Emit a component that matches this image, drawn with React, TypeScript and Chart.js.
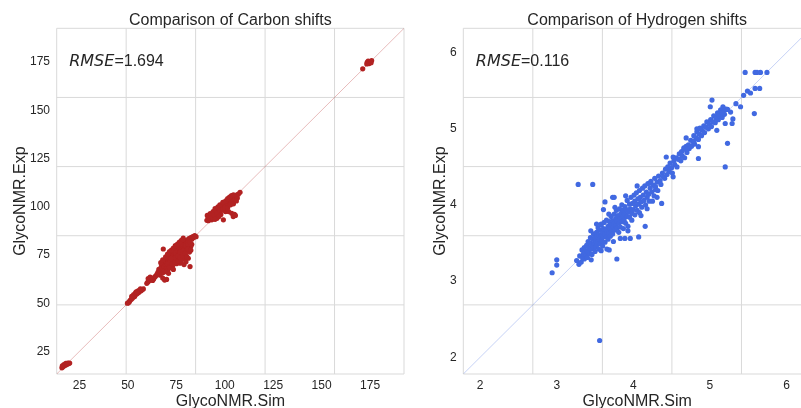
import React, { useEffect, useRef } from 'react';
import { Chart, registerables } from 'chart.js';

Chart.register(...registerables);

// ---------- data ----------
const carbonTitle = 'Comparison of Carbon shifts';
const hydrogenTitle = 'Comparison of Hydrogen shifts';
const xAxisLabel = 'GlycoNMR.Sim';
const yAxisLabel = 'GlycoNMR.Exp';
const carbonRmse = '1.694';
const hydrogenRmse = '0.116';

const carbonTicks = [25, 50, 75, 100, 125, 150, 175];
const hydrogenTicks = [2, 3, 4, 5, 6];
const carbonRange = [13.3, 192.5];
const hydrogenRange = [1.78, 6.32];

// [simulated, experimental]
const carbonPoints: [number, number][] = [
  [16, 16.5], [16.5, 17], [17, 17.5], [17.5, 17.8], [18, 18], [18.5, 18.3], [19, 18.5], [19.5, 18.8], [20, 19],
  [17, 18.2], [18, 18.8], [19, 19], [16.2, 17.5],
  [49.8, 50], [50.3, 50.2], [50.8, 50.8], [51.2, 51.5], [51.8, 52], [52.3, 52.6], [53, 53.2], [53.5, 53.5],
  [54, 54.5], [54.5, 54.8], [55, 55.2], [55.6, 55.6], [56.2, 56.2], [56.8, 56.5], [57.3, 57], [58, 57.4],
  [54, 55.5], [53, 54.5], [55.5, 56.5], [52, 53.5], [54.5, 56], [56.5, 57.5],
  [59.8, 60.3], [60.3, 61], [60.8, 61.5], [61.3, 62.2], [61.8, 62.6], [62.3, 63], [62.8, 61.8], [63.3, 62.5],
  [63.8, 63.4], [64.3, 64], [65, 65], [60.5, 62.8], [61.5, 63.5], [68, 63], [70, 62.3], [69, 62],
  [65.5, 66], [66, 67.5], [66.5, 66.8], [67, 68], [67.3, 69], [67.8, 68.3], [68.2, 69.5], [68.5, 70.2],
  [68.8, 68.8], [69.2, 71], [69.5, 70], [69.8, 72], [70, 71.3], [70.3, 69.5], [70.6, 72.8], [71, 71.8],
  [71.2, 73.5], [71.5, 70.5], [71.8, 73], [72, 74.5], [72.3, 72.2], [72.5, 75], [72.8, 73.8], [73, 71.8],
  [73.3, 75.8], [73.5, 74.5], [73.8, 73], [74, 76.5], [74.2, 75.2], [74.5, 77], [74.8, 74], [75, 76],
  [75.2, 78], [75.5, 75.5], [75.8, 77.5], [76, 79], [76.2, 76.3], [76.5, 78.3], [76.8, 77], [77, 80],
  [77.2, 78.8], [77.5, 75.8], [77.8, 79.5], [78, 81], [78.3, 78], [78.5, 80.3], [78.8, 79], [79, 81.8],
  [79.3, 80.5], [79.6, 78.5], [80, 82.5], [80.3, 81], [80.7, 79.5], [81, 82.8], [81.5, 83.5], [82, 82],
  [82.5, 84], [83, 83.2], [83.5, 84.5], [84, 84], [84.5, 85], [85.2, 84.5], [78.6, 83.7], [68.3, 78.1],
  [81.2, 73.3], [82.1, 69], [76.9, 70.7], [74.3, 76.7], [79, 73], [80, 71.5], [77.5, 72], [75, 70.5],
  [73, 69], [71, 67.8], [69.8, 66.5], [72.5, 69.5], [74, 72.2], [76, 73.8], [78, 76], [80.5, 77.5],
  [82.5, 79.5], [81.8, 76.5], [83, 80.5], [79.8, 75], [66.5, 64.6], [67.5, 65.5], [68.5, 66], [69, 67],
  [70, 68], [75, 74.8], [76.5, 75], [77.5, 77.3], [79, 77.5], [80, 79.8], [81, 80.5], [82, 81.5],
  [70.5, 70.5], [71.8, 71], [73.5, 72.5], [74.5, 73.5], [75.8, 74.5], [77, 76.5], [78.5, 77], [72.2, 73.2],
  [67, 71], [68, 72.5], [69.5, 74], [70.5, 75.5], [71.5, 76.8], [72.5, 77.5], [73.5, 78.5], [74.5, 79.8],
  [75.5, 80.5], [76.5, 81.5], [77.5, 82.5], [78.3, 83], [70, 66.5], [71.5, 68.5], [73, 70.5], [74.5, 71],
  [76, 72], [77, 73.5], [78.5, 74.5], [79.5, 76], [81, 78], [82.5, 77.5], [80.5, 74], [79, 70],
  [73.5, 67.5], [71, 65.5],
  [90.8, 93], [91.5, 94.5], [92, 93.2], [92.8, 95], [93.3, 93.2], [93.8, 96], [94.5, 94.8], [95, 97.3],
  [95.5, 95.5], [96, 98], [96.5, 96.2], [97, 99], [97.5, 97.5], [98, 100], [98.5, 98.3], [99, 100.8],
  [99.3, 93.2], [99.5, 99.2], [100, 101.5], [100.4, 97.5], [100.5, 100], [101, 102.3], [101.5, 100.8],
  [102, 103], [102.5, 101.5], [103, 104], [103.5, 102.5], [103.6, 96.6], [104, 104.8], [104.4, 94.9],
  [104.5, 103], [105, 105.5], [105.5, 104], [106, 106], [106.5, 104.5], [107, 106.5], [107.9, 107.5],
  [105, 96], [105.5, 95.5], [98, 96], [96, 94], [101, 99], [102, 97.5],
  [91, 95.5], [92.5, 96.5], [94, 97.5], [95, 99], [96.5, 100], [97.5, 101], [99, 102.3], [100.5, 103],
  [101.5, 104.2], [102.5, 105], [103.5, 105.8], [104.5, 106.2], [93, 94], [94.5, 95.8], [96, 96.8],
  [97.5, 98.5], [99, 98.5], [100, 99.5], [101.5, 99.5], [103, 101], [104.5, 101.5], [106, 103],
  [91.5, 92.8], [97, 95], [95, 93.5],
  [171.2, 171.5], [173.5, 174.8], [174, 175.5], [174.5, 174.2], [175, 175.3], [175.5, 174.7], [175.8, 175.8], [173.3, 174],
];

const hydrogenPoints: [number, number][] = [
  [2.94, 3.11], [3.0, 3.21], [3.0, 3.28], [3.28, 4.27], [3.47, 4.27], [3.56, 2.22], [3.785, 3.29],
  [3.63, 4.04], [3.75, 4.1], [3.73, 4.1], [3.61, 3.94], [3.445, 3.66], [3.58, 3.75], [4.155, 3.72],
  [4.07, 3.58], [3.96, 3.56], [3.89, 3.56], [3.83, 3.56], [3.655, 3.42], [3.685, 3.41], [4.31, 4.1],
  [4.37, 4.02], [4.29, 4.2], [4.22, 4.29],
  [3.26, 3.27], [3.29, 3.22], [3.3, 3.33], [3.32, 3.25], [3.33, 3.41], [3.34, 3.3], [3.35, 3.36], [3.36, 3.44],
  [3.36, 3.29], [3.37, 3.38], [3.38, 3.33], [3.39, 3.47], [3.4, 3.4], [3.4, 3.31], [3.41, 3.52], [3.42, 3.38],
  [3.42, 3.44], [3.43, 3.36], [3.44, 3.5], [3.44, 3.57], [3.45, 3.42], [3.46, 3.47], [3.46, 3.35], [3.47, 3.55],
  [3.48, 3.44], [3.48, 3.62], [3.49, 3.5], [3.5, 3.39], [3.5, 3.57], [3.51, 3.53], [3.51, 3.45], [3.52, 3.64],
  [3.53, 3.48], [3.53, 3.58], [3.54, 3.52], [3.54, 3.7], [3.55, 3.42], [3.55, 3.61], [3.56, 3.55], [3.57, 3.67],
  [3.57, 3.49], [3.58, 3.59], [3.58, 3.74], [3.59, 3.53], [3.6, 3.64], [3.6, 3.46], [3.61, 3.69], [3.61, 3.58],
  [3.62, 3.77], [3.63, 3.62], [3.63, 3.51], [3.64, 3.68], [3.65, 3.58], [3.65, 3.8], [3.66, 3.64], [3.67, 3.72],
  [3.67, 3.55], [3.68, 3.63], [3.69, 3.78], [3.69, 3.69], [3.7, 3.59], [3.71, 3.74], [3.71, 3.85], [3.72, 3.66],
  [3.73, 3.79], [3.73, 3.62], [3.74, 3.71], [3.75, 3.88], [3.75, 3.76], [3.76, 3.67], [3.77, 3.82], [3.77, 3.73],
  [3.78, 3.93], [3.79, 3.7], [3.79, 3.79], [3.8, 3.86], [3.81, 3.64], [3.81, 3.76], [3.82, 3.95], [3.83, 3.82],
  [3.83, 3.71], [3.84, 3.89], [3.85, 3.78], [3.85, 4.0], [3.86, 3.85], [3.87, 3.69], [3.87, 3.93], [3.88, 3.8],
  [3.89, 3.98], [3.89, 3.88], [3.9, 3.76], [3.91, 3.94], [3.92, 3.85], [3.92, 4.06], [3.93, 3.72], [3.94, 3.91],
  [3.95, 4.01], [3.95, 3.84], [3.96, 3.95], [3.97, 4.1], [3.98, 3.89], [3.98, 3.8], [3.99, 4.02], [4.0, 3.94],
  [4.01, 4.13], [4.02, 3.87], [4.02, 4.05], [4.03, 3.99], [4.04, 4.16], [4.05, 3.93], [4.06, 4.08], [4.07, 4.01],
  [4.08, 4.19], [4.08, 3.9], [4.09, 4.1], [4.1, 4.04], [4.11, 3.97], [4.12, 4.22], [4.13, 4.13], [4.14, 4.06],
  [4.15, 4.25], [4.16, 4.0], [4.17, 4.17], [4.18, 4.1], [4.19, 4.28], [4.2, 4.14], [4.21, 4.05], [4.22, 4.22],
  [4.23, 4.31], [4.24, 4.17], [4.26, 4.26], [4.27, 4.12], [4.28, 4.35], [4.29, 4.24], [4.31, 4.3], [4.32, 4.19],
  [4.33, 4.38], [4.35, 4.32], [4.36, 4.27], [4.38, 4.42], [4.39, 4.37], [4.41, 4.35], [4.42, 4.47], [4.44, 4.4],
  [4.45, 4.5], [4.47, 4.44], [4.48, 4.55], [4.5, 4.49], [4.51, 4.42], [4.53, 4.58], [4.54, 4.53], [4.56, 4.62],
  [4.57, 4.5], [4.59, 4.6], [4.6, 4.67], [4.62, 4.58], [4.63, 4.7], [4.64, 4.64], [4.66, 4.73], [4.67, 4.62],
  [4.69, 4.77], [4.7, 4.69], [4.72, 4.79], [4.73, 4.74], [4.75, 4.85], [4.76, 4.77], [4.78, 4.83], [4.79, 4.91],
  [4.8, 4.8], [4.82, 4.88], [4.83, 4.96], [4.85, 4.86], [4.86, 4.93], [4.87, 5.01], [4.89, 4.91], [4.9, 4.98],
  [4.92, 5.04], [4.93, 4.95], [4.95, 5.02], [4.96, 5.09], [4.98, 5.0], [4.99, 5.06], [5.01, 5.12], [5.02, 5.03],
  [5.04, 5.09], [5.05, 5.17], [5.07, 5.08], [5.08, 5.14], [5.1, 5.21], [5.11, 5.12], [5.13, 5.17], [5.14, 5.25],
  [5.16, 5.15], [5.17, 5.22], [5.19, 5.19], [5.21, 5.26],
  [3.52, 3.75], [3.68, 3.88], [3.76, 3.97], [3.9, 4.12], [4.05, 4.25], [3.74, 3.52], [3.93, 3.66], [4.1, 3.86],
  [4.18, 3.95], [4.25, 4.05], [3.45, 3.28], [3.58, 3.4],
  [5.027, 5.377], [5.005, 5.29], [5.17, 5.29], [5.2, 5.255], [5.23, 5.255], [5.27, 5.22], [5.11, 5.19],
  [5.16, 5.21], [5.2, 5.07], [5.29, 5.07], [5.3, 5.13], [5.23, 4.81], [5.2, 4.5], [4.85, 4.61], [4.85, 4.765],
  [4.69, 4.88], [4.79, 4.84], [4.66, 4.75], [4.7, 4.73], [4.43, 4.63], [4.52, 4.63], [4.52, 4.37], [4.6, 4.6],
  [4.83, 5.0], [4.87, 5.0], [5.09, 4.98], [5.34, 5.33], [5.4, 5.29], [5.44, 5.44], [5.49, 5.495], [5.53, 5.47],
  [5.59, 5.53], [5.65, 5.53], [5.58, 5.2], [5.46, 5.74], [5.59, 5.74], [5.615, 5.74], [5.66, 5.74], [5.745, 5.74],
];

// ---------- styling ----------
const GRID_COLOR = '#d9d9d9';
const TEXT_COLOR = '#262626';
const SANS = '"Liberation Sans", Arial, sans-serif';

type PanelProps = {
  left: number;
  width: number;
  height: number;
  title: string;
  rmse: string;
  points: [number, number][];
  range: number[];
  ticks: number[];
  color: string;
  lineColor: string;
  yScaleWidth: number;
  padRight: number;
  yLabelGap: number;
};

function Panel(p: PanelProps) {
  const ref = useRef<HTMLCanvasElement | null>(null);

  useEffect(() => {
    if (!ref.current) return;
    const decor = {
      id: 'panelDecor',
      beforeDatasetsDraw(chart: any) {
        const { ctx, chartArea: a } = chart;
        ctx.save();
        ctx.strokeStyle = GRID_COLOR;
        ctx.lineWidth = 1;
        const w = a.right - a.left;
        const h = a.bottom - a.top;
        for (let k = 0; k <= 5; k++) {
          const x = a.left + (w * k) / 5;
          ctx.beginPath();
          ctx.moveTo(x, a.top);
          ctx.lineTo(x, a.bottom);
          ctx.stroke();
          const y = a.top + (h * k) / 5;
          ctx.beginPath();
          ctx.moveTo(a.left, y);
          ctx.lineTo(a.right, y);
          ctx.stroke();
        }
        ctx.restore();
      },
      afterDraw(chart: any) {
        const { ctx, chartArea: a } = chart;
        const cx = (a.left + a.right) / 2;
        const cy = (a.top + a.bottom) / 2;
        ctx.save();
        ctx.fillStyle = TEXT_COLOR;
        ctx.textBaseline = 'alphabetic';
        ctx.textAlign = 'center';
        ctx.font = `16px ${SANS}`;
        ctx.fillText(p.title, cx, a.top - 3.3);
        ctx.fillText(xAxisLabel, cx, a.bottom + 32.3);
        ctx.save();
        ctx.translate(a.left - p.yLabelGap, cy);
        ctx.rotate(-Math.PI / 2);
        ctx.fillText(yAxisLabel, 0, 0);
        ctx.restore();
        // RMSE annotation
        ctx.textAlign = 'left';
        const tx = a.left + 12.5;
        const ty = a.top + 37.3;
        ctx.font = `italic 16px "DejaVu Sans", ${SANS}`;
        ctx.fillText('RMSE', tx, ty);
        const wItalic = ctx.measureText('RMSE').width;
        ctx.font = `16px ${SANS}`;
        ctx.fillText('=' + p.rmse, tx + wItalic, ty);
        ctx.restore();
      },
    };

    const tickFont = { family: SANS, size: 12 };
    const setTicks = (scale: any) => {
      scale.ticks = p.ticks.map((v) => ({ value: v }));
    };

    const chart = new Chart(ref.current, {
      type: 'scatter',
      data: {
        datasets: [
          {
            data: p.points.map(([x, y]) => ({ x, y })),
            backgroundColor: p.color,
            borderColor: p.color,
            borderWidth: 0,
            pointRadius: 2.6,
            order: 1,
          },
          {
            data: [
              { x: p.range[0], y: p.range[0] },
              { x: p.range[1], y: p.range[1] },
            ],
            showLine: true,
            borderColor: p.lineColor,
            borderWidth: 1,
            pointRadius: 0,
            order: 2,
          },
        ],
      },
      options: {
        animation: false,
        responsive: false,
        events: [],
        layout: { padding: { left: 0, right: p.padRight, top: 28.3, bottom: 0 } },
        plugins: {
          legend: { display: false },
          tooltip: { enabled: false },
          title: { display: false },
        },
        scales: {
          x: {
            type: 'linear',
            min: p.range[0],
            max: p.range[1],
            grid: { display: false, drawTicks: false },
            border: { display: false },
            ticks: { font: tickFont, color: TEXT_COLOR, padding: 4, maxRotation: 0, autoSkip: false },
            afterBuildTicks: setTicks,
            afterFit: (s: any) => {
              s.height = 34;
            },
          },
          y: {
            type: 'linear',
            min: p.range[0],
            max: p.range[1],
            grid: { display: false, drawTicks: false },
            border: { display: false },
            ticks: { font: tickFont, color: TEXT_COLOR, padding: 6.7, autoSkip: false },
            afterBuildTicks: setTicks,
            afterFit: (s: any) => {
              s.width = p.yScaleWidth;
            },
          },
        },
      },
      plugins: [decor],
    } as any);

    return () => chart.destroy();
  }, []);

  return (
    <canvas
      ref={ref}
      width={p.width}
      height={p.height}
      style={{ position: 'absolute', left: p.left, top: 0, width: p.width, height: p.height }}
    />
  );
}

export default function App() {
  return (
    <div
      style={{
        position: 'fixed',
        left: 0,
        top: 0,
        width: 801,
        height: 408,
        overflow: 'hidden',
        background: '#ffffff',
      }}
    >
      <Panel
        left={0}
        width={420}
        height={408}
        title={carbonTitle}
        rmse={carbonRmse}
        points={carbonPoints}
        range={carbonRange}
        ticks={carbonTicks}
        color="#b22222"
        lineColor="rgba(178,34,34,0.3)"
        yScaleWidth={56.7}
        padRight={16}
        yLabelGap={32.2}
      />
      <Panel
        left={420}
        width={400}
        height={408}
        title={hydrogenTitle}
        rmse={hydrogenRmse}
        points={hydrogenPoints}
        range={hydrogenRange}
        ticks={hydrogenTicks}
        color="#4169e1"
        lineColor="rgba(65,105,225,0.3)"
        yScaleWidth={43.3}
        padRight={9}
        yLabelGap={18.3}
      />
    </div>
  );
}
